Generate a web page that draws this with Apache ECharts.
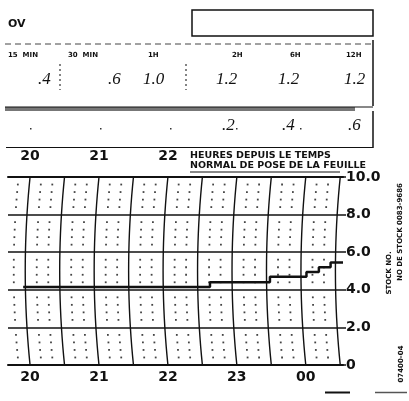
<!DOCTYPE html>
<html>
<head>
<meta charset="utf-8">
<script src="https://cdn.jsdelivr.net/npm/echarts@6/dist/echarts.min.js"></script>
<style>
  html, body { margin: 0; padding: 0; background: #fff; }
  #chart { width: 409px; height: 401px; }
</style>
</head>
<body>
<div id="chart"></div>
<script>
// recorded trace: time in hours since 20:00 sheet start (24 = 00h), amount
let traceTimes = [19.9, 22.61, 23.48, 24.01, 24.19, 24.36, 24.54];
let traceValues = [4.15, 4.4, 4.7, 4.95, 5.2, 5.45, 5.45];

// header table
let durationLabels = ["15  MIN", "30  MIN", "1H", "2H", "6H", "12H"];
let maxAmounts = [".4", ".6", "1.0", "1.2", "1.2", "1.2"];
let lowerAmounts = [".2", ".4", ".6"];

let hourTicks = [20, 21, 22, 23, 24];
let topHourTicks = [20, 21, 22];

let ink = "#111";
let labelFont = "DejaVu Sans";

// half hour arcs of the pen
let halfHours = [];
for (let t = 19.5; t <= 24.5; t += 0.5) halfHours.push([t]);

let bow = 0.0028;
function arcX(t, v) {
    return t + bow * ((v - 5) * (v - 5) - 25);
}

let tMin = 19.68, tMax = 24.54;

function renderArcs(params, api) {
    let t = api.value(0);
    let children = [];
    if (t >= tMin && t <= tMax + 0.01) {
        let pts = [];
        for (let v = 0; v <= 10.001; v += 0.5) pts.push(api.coord([arcX(t, v), v]));
        children.push({
            type: 'polyline',
            shape: { points: pts },
            style: { stroke: ink, lineWidth: 1.4, fill: null }
        });
    }
    for (let k = 1; k <= 2; k++) {
        let tt = t + k / 6;
        if (tt < tMin || tt > tMax) continue;
        for (let v = 0.4; v < 10; v += 0.4) {
            let r = v / 2 - Math.round(v / 2);
            if (Math.abs(r) < 0.05) continue;
            let p = api.coord([arcX(tt, v), v]);
            children.push({
                type: 'rect',
                shape: { x: p[0] - 0.9, y: p[1] - 0.9, width: 1.8, height: 1.8 },
                style: { fill: "#444" }
            });
        }
    }
    return { type: 'group', children: children };
}

let traceData = traceTimes.map((t, i) => [t, traceValues[i]]);

// header positions
let durationX = [8, 68, 148, 232, 290, 346];
let amountX = [38, 108, 143, 216, 278, 344];
let lowerX = [222, 282, 348];

let graphics = [];
graphics.push({ type: 'text', left: 8, top: 19, style: { text: "OV", font: "bold 11px " + labelFont, fill: ink } });
graphics.push({ type: 'rect', shape: { x: 192, y: 10, width: 181, height: 26 }, style: { stroke: ink, lineWidth: 1.5, fill: null } });
graphics.push({ type: 'line', shape: { x1: 5, y1: 44, x2: 373, y2: 44 }, style: { stroke: "#444", lineWidth: 1, lineDash: [6, 4] } });
graphics.push({ type: 'line', shape: { x1: 373, y1: 40, x2: 373, y2: 106 }, style: { stroke: ink, lineWidth: 1.5 } });
durationLabels.forEach((s, i) => {
    graphics.push({ type: 'text', left: durationX[i], top: 52, style: { text: s, font: "bold 7px " + labelFont, fill: ink } });
});
maxAmounts.forEach((s, i) => {
    graphics.push({ type: 'text', left: amountX[i], top: 71, style: { text: s, font: "italic 17px 'Liberation Serif'", fill: ink } });
});
// dotted separators
[60, 186].forEach(x => {
    graphics.push({ type: 'line', shape: { x1: x, y1: 64, x2: x, y2: 90 }, style: { stroke: "#333", lineWidth: 1.2, lineDash: [2, 3] } });
});
graphics.push({ type: 'rect', shape: { x: 5, y: 107, width: 350, height: 4 }, style: { fill: "#777" } });
graphics.push({ type: 'line', shape: { x1: 5, y1: 107, x2: 373, y2: 107 }, style: { stroke: ink, lineWidth: 1 } });
graphics.push({ type: 'line', shape: { x1: 373, y1: 111, x2: 373, y2: 148 }, style: { stroke: ink, lineWidth: 1.5 } });
graphics.push({ type: 'line', shape: { x1: 6, y1: 147.5, x2: 373, y2: 147.5 }, style: { stroke: ink, lineWidth: 1.2 } });
lowerAmounts.forEach((s, i) => {
    graphics.push({ type: 'text', left: lowerX[i], top: 117, style: { text: s, font: "italic 17px 'Liberation Serif'", fill: ink } });
});
[30, 100, 170, 236, 300].forEach(x => {
    graphics.push({ type: 'rect', shape: { x: x, y: 128, width: 1.5, height: 1.5 }, style: { fill: "#333" } });
});
graphics.push({ type: 'text', left: 190, top: 151, style: { text: "HEURES DEPUIS LE TEMPS", font: "bold 9.5px " + labelFont, fill: ink } });
graphics.push({ type: 'text', left: 190, top: 161, style: { text: "NORMAL DE POSE DE LA FEUILLE", font: "bold 9.5px " + labelFont, fill: ink } });
graphics.push({ type: 'line', shape: { x1: 190, y1: 172, x2: 340, y2: 172 }, style: { stroke: ink, lineWidth: 1 } });
// side stock numbers, read bottom to top
graphics.push({ type: 'text', x: 389, y: 273, rotation: Math.PI / 2, style: { text: "STOCK NO.", font: "bold 7px " + labelFont, fill: ink, align: 'center', verticalAlign: 'middle' } });
graphics.push({ type: 'text', x: 400, y: 232, rotation: Math.PI / 2, style: { text: "NO DE STOCK 0083-9686", font: "bold 7px " + labelFont, fill: ink, align: 'center', verticalAlign: 'middle' } });
graphics.push({ type: 'text', x: 401, y: 364, rotation: Math.PI / 2, style: { text: "07400-04", font: "bold 7px " + labelFont, fill: ink, align: 'center', verticalAlign: 'middle' } });
graphics.push({ type: 'line', shape: { x1: 325, y1: 392.5, x2: 350, y2: 392.5 }, style: { stroke: ink, lineWidth: 2 } });
graphics.push({ type: 'line', shape: { x1: 375, y1: 392.5, x2: 407, y2: 392.5 }, style: { stroke: "#555", lineWidth: 1.5 } });

let chart = echarts.init(document.getElementById("chart"));

let option = {
    animation: false,
    backgroundColor: "#fff",
    grid: { left: 8, right: 66, top: 177, bottom: 36 },
    xAxis: [{
        type: 'value',
        min: tMin,
        max: tMax,
        position: 'bottom',
        axisLine: { show: true, lineStyle: { color: ink, width: 2 } },
        axisTick: { show: false },
        splitLine: { show: false },
        axisLabel: {
            customValues: hourTicks,
            formatter: v => v >= 24 ? "00" : String(v),
            margin: 5,
            color: ink,
            fontFamily: labelFont,
            fontWeight: 'bold',
            fontSize: 14
        }
    }, {
        type: 'value',
        min: tMin,
        max: tMax,
        position: 'top',
        axisLine: { show: true, lineStyle: { color: ink, width: 2 } },
        axisTick: { show: false },
        splitLine: { show: false },
        axisLabel: {
            customValues: topHourTicks,
            formatter: v => String(v),
            margin: 14,
            color: ink,
            fontFamily: labelFont,
            fontWeight: 'bold',
            fontSize: 14
        }
    }],
    yAxis: {
        type: 'value',
        min: 0,
        max: 10,
        interval: 2,
        position: 'right',
        axisLine: { show: false },
        axisTick: { show: true, length: 3, lineStyle: { color: ink, width: 1.5 } },
        splitLine: { show: true, lineStyle: { color: ink, width: 1.5 } },
        axisLabel: {
            formatter: v => v === 0 ? "0" : v.toFixed(1),
            margin: 3,
            color: ink,
            fontFamily: labelFont,
            fontWeight: 'bold',
            fontSize: 14
        }
    },
    graphic: graphics,
    series: [{
        type: 'custom',
        renderItem: renderArcs,
        data: halfHours,
        clip: false,
        silent: true,
        z: 1
    }, {
        type: 'line',
        data: traceData,
        step: 'end',
        showSymbol: false,
        lineStyle: { color: ink, width: 2.5 },
        z: 3
    }]
};

chart.setOption(option);
</script>
</body>
</html>
